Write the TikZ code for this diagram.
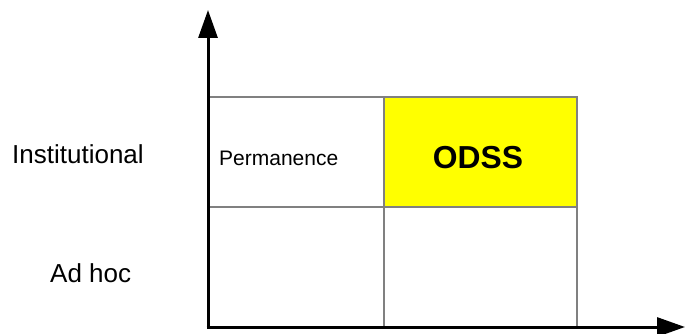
\documentclass[tikz,border=0pt]{standalone}
\usepackage{fontspec}
\setmainfont{Liberation Sans}
\usetikzlibrary{arrows.meta}
\definecolor{cellyellow}{RGB}{255,255,0}
\definecolor{gridgray}{RGB}{128,128,128}
\begin{document}
\begin{tikzpicture}[x=1pt,y=-1pt,
  cell/.style={draw=gridgray, line width=2pt, anchor=north west, minimum width=176pt, minimum height=110pt, inner sep=0pt, outer sep=0pt},
  cellB/.style={cell, minimum width=193pt},
  axis/.style={line width=3pt, -{Triangle[width=19pt,length=28pt]}},
  lab/.style={inner sep=0pt, anchor=base west, font=\fontsize{26}{30}\selectfont}]
\useasboundingbox (0,0) rectangle (685,334);
\node[cell] (c11) at (208,97) {};
\node[cellB, fill=cellyellow] (c12) at (384,97) {};
\node[cell, minimum height=120pt] (c21) at (208,207) {};
\node[cellB, minimum height=120pt] (c22) at (384,207) {};
\coordinate (o) at (208,327);
\coordinate (ytip) at (208,10);
\coordinate (xtip) at (685,327);
\draw[axis] ([yshift=1.5pt]o) -- (ytip);
\draw[axis] ([xshift=-1.5pt]o) -- (xtip);
\node[lab] (inst) at (12,163) {Institutional};
\node[lab] (adhoc) at (50,282) {Ad hoc};
\node[lab, font=\fontsize{21}{25}\selectfont] (perm) at (219,165) {Permanence};
\node[inner sep=0pt, anchor=base, font=\fontsize{31.8}{36}\selectfont\bfseries] (odss) at (478,168) {ODSS};
\end{tikzpicture}
\end{document}
